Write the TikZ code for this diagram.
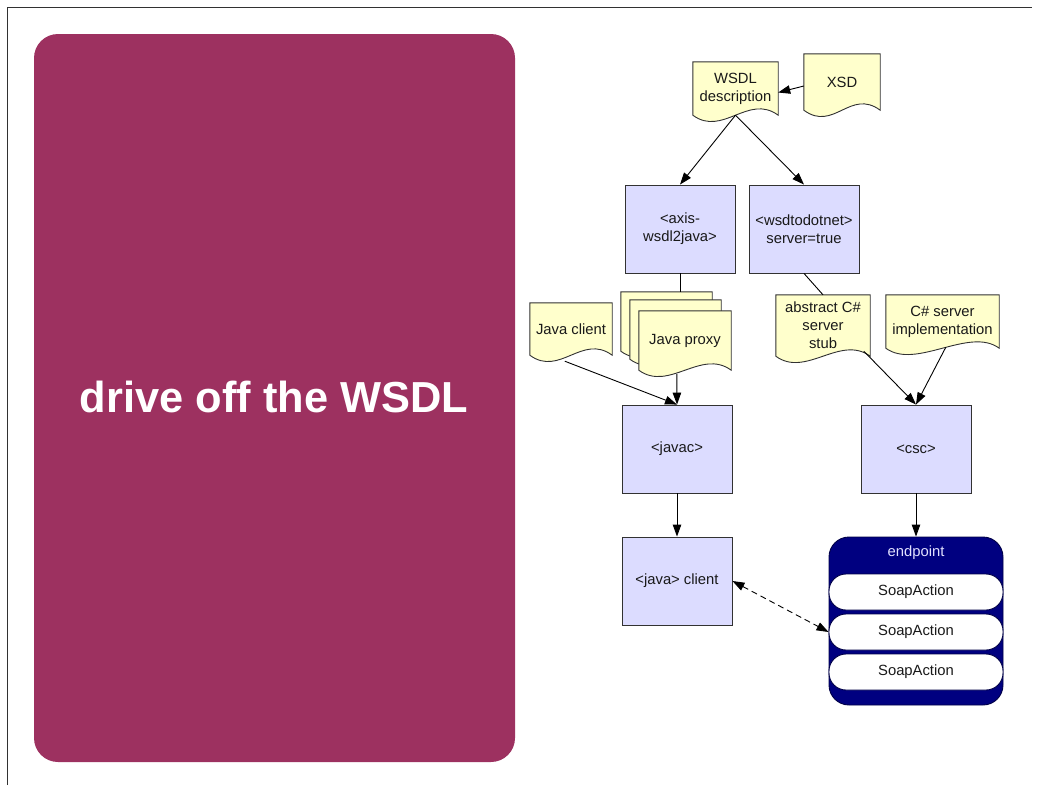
\documentclass[tikz,border=0pt]{standalone}
\usepackage{fontspec}
\setmainfont{Liberation Sans}
\usetikzlibrary{calc,arrows.meta}
\pgfdeclarelayer{background}
\pgfsetlayers{background,main}

\definecolor{panel}{RGB}{157,49,96}
\definecolor{toolfill}{RGB}{220,220,255}
\definecolor{docfill}{RGB}{255,255,204}
\definecolor{navy}{RGB}{0,0,128}
\definecolor{edge}{RGB}{50,50,50}
\definecolor{eplabel}{RGB}{225,225,255}

\tikzset{
  lbl/.style={font=\fontsize{14.8}{17.8}\selectfont, align=center, text=black!90},
  tool/.style={lbl, rectangle, draw=edge, fill=toolfill, line width=0.9pt,
    minimum width=110pt, minimum height=88pt, inner sep=0pt},
  docnode/.style={lbl, rectangle, inner sep=0pt},
  docshape/.style={draw=edge, fill=docfill, line width=0.9pt},
  action/.style={lbl, rectangle, rounded corners=17pt, draw={rgb,255:red,0;green,0;blue,70},
    fill=white, line width=0.9pt, minimum width=174pt, minimum height=36pt, inner sep=0pt},
  flow/.style={draw=black, line width=0.9pt, -{Triangle[length=12pt,width=8.5pt]}},
  link/.style={draw=black, line width=0.9pt},
  frameline/.style={draw=edge, line width=1pt},
}

% document outline: flat top, wavy bottom, drawn behind the node text
\newcommand\docoutline[1]{%
  \begin{pgfonlayer}{background}
    \path[docshape] (#1.north west) -- (#1.north east) -- (#1.south east)
      .. controls +(-30,-22) and +(30,22) .. (#1.south west) -- cycle;
  \end{pgfonlayer}}

\begin{document}
\begin{tikzpicture}[x=1pt, y=-1pt]
\useasboundingbox (0,0) rectangle (1038,785);

% slide frame
\path[frameline] (7,785) -- (7,7) -- (1032,7);

% title panel
\fill[panel, rounded corners=24pt] (34,34) rectangle (515,762);
\node[text=white, font=\fontsize{43.4}{50}\selectfont\bfseries, anchor=base, inner sep=0pt]
  (title) at (274,412) {drive off the WSDL};

% source documents
\node[docnode, minimum width=85pt, minimum height=53pt] (wsdl) at (735.5,88.5) {WSDL\\description};
\node[docnode, minimum width=76pt, minimum height=56pt] (xsd) at (842,82) {XSD};
\docoutline{wsdl}
\docoutline{xsd}

% code generators
\node[tool] (axis) at (680,229) {<axis-\\wsdl2java>};
\node[tool] (dotnet) at (804,229) {<wsdtodotnet>\\server=true};

% generated and hand-written sources
\node[docnode, minimum width=82pt, minimum height=52pt] (jcdoc) at (571,329) {Java client};
\node[docnode, minimum width=91pt, minimum height=59pt] (proxy3) at (666.5,321.5) {};
\node[docnode, minimum width=91pt, minimum height=59pt] (proxy2) at (675.5,329.5) {};
\node[docnode, minimum width=92pt, minimum height=59pt] (proxy) at (685,340.5) {Java proxy};
\node[docnode, minimum width=94pt, minimum height=61pt] (stub) at (823,325.5) {abstract C\#\\server\\stub};
\node[docnode, minimum width=113pt, minimum height=53pt] (impl) at (942.5,321.5) {C\# server\\implementation};
\docoutline{jcdoc}
\docoutline{proxy3}
\docoutline{proxy2}
\docoutline{proxy}
\docoutline{stub}
\docoutline{impl}

% compilers and runtime
\node[tool] (javac) at (677,449) {<javac>};
\node[tool] (csc) at (916,449) {<csc>};
\node[tool] (jclient) at (677,581) {<java> client};

% service endpoint
\node[rectangle, rounded corners=20pt, fill=navy, draw={rgb,255:red,0;green,0;blue,70},
  line width=0.9pt, minimum width=174pt, minimum height=168pt] (endpoint) at (916,621) {};
\node[lbl, text=eplabel] (eptitle) at (916,553) {endpoint};
\node[action] (sa1) at (916,592) {SoapAction};
\node[action] (sa2) at (916,632) {SoapAction};
\node[action] (sa3) at (916,672) {SoapAction};

% connectors
\draw[flow] ($(xsd.west)+(0,4)$) -- ($(wsdl.east)+(0,4)$);
\draw[flow] (wsdl.south) -- (axis.north);
\draw[flow] (wsdl.south) -- (dotnet.north);
\draw[link] (axis.south) -- (axis.south |- proxy3.north);
\draw[link] (dotnet.south) -- (stub.north);
\draw[flow] ($(jcdoc.south west)+(35,6)$) -- (javac.north);
\draw[flow] ($(proxy.south west)+(38,4)$) -- (javac.north);
\draw[flow] ($(stub.south west)+(88,-5)$) -- (csc.north);
\draw[flow] ($(impl.south west)+(60,-1)$) -- (csc.north);
\draw[flow] (javac.south) -- (jclient.north);
\draw[flow] (csc.south) -- (endpoint.north);
\draw[draw=black, line width=0.9pt, dash pattern=on 6pt off 4pt,
  {Triangle[length=12pt,width=8.5pt]}-{Triangle[length=12pt,width=8.5pt]}]
  (jclient.east) -- (sa2.west);
\end{tikzpicture}
\end{document}
